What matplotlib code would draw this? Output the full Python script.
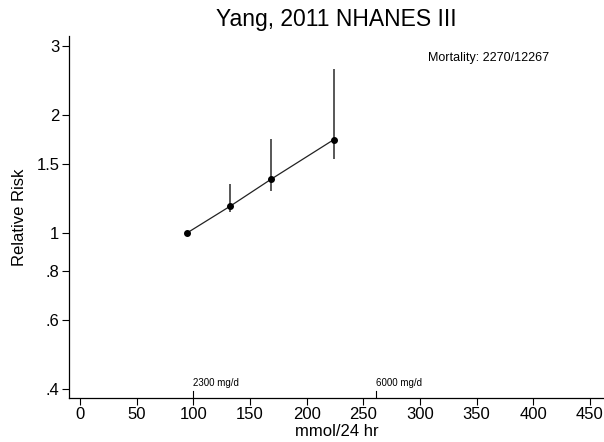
import matplotlib
matplotlib.use("Agg")
import matplotlib.pyplot as plt
from matplotlib.ticker import FixedLocator, FixedFormatter, NullLocator

# sodium excretion (mmol/24 hr) and relative risk with 95% CI
sodium = [94.5, 132.5, 168.5, 224.0]
rr = [1.0, 1.17, 1.37, 1.73]
rr_low = [1.0, 1.13, 1.28, 1.54]
rr_high = [1.0, 1.33, 1.74, 2.62]

y_ticks = [0.4, 0.6, 0.8, 1, 1.5, 2, 3]
y_labels = [".4", ".6", ".8", "1", "1.5", "2", "3"]
x_ticks = [0, 50, 100, 150, 200, 250, 300, 350, 400, 450]

ref_x = [100, 261]
ref_labels = ["2300 mg/d", "6000 mg/d"]

plt.rcParams["font.family"] = ["Liberation Sans", "DejaVu Sans"]

fig = plt.figure(figsize=(6.04, 4.42), dpi=100)
ax = fig.add_axes([0.1142, 0.1002, 0.8858, 0.8184])

ax.set_yscale("log")
ax.set_xlim(-9.7, 462.5)
ax.set_ylim(0.380, 3.18)

# error bars
for x, lo, hi in zip(sodium, rr_low, rr_high):
    if hi > lo:
        ax.plot([x, x], [lo, hi], color="#2a2a2a", lw=1.1, solid_capstyle="butt")

ax.plot(sodium, rr, color="#222222", lw=0.9, marker="o", markersize=4.0,
        markerfacecolor="black", markeredgecolor="black")

# reference intake marks
for x, lab in zip(ref_x, ref_labels):
    ax.axvline(x, ymin=0, ymax=0.018, color="black", lw=0.8)
    ax.text(x, 0.402, lab, fontsize=7, ha="left", va="bottom")

ax.text(0.671, 0.939, "Mortality: 2270/12267", transform=ax.transAxes,
        fontsize=9, ha="left", va="center")

ax.yaxis.set_major_locator(FixedLocator(y_ticks))
ax.yaxis.set_major_formatter(FixedFormatter(y_labels))
ax.yaxis.set_minor_locator(NullLocator())
ax.set_xticks(x_ticks)

ax.tick_params(axis="both", labelsize=12, length=5, width=0.8, pad=2)
for s in ["top", "right"]:
    ax.spines[s].set_visible(False)
for s in ["left", "bottom"]:
    ax.spines[s].set_linewidth(0.9)

ax.set_xlabel("mmol/24 hr", fontsize=12, labelpad=1)
ax.set_ylabel("Relative Risk", fontsize=12, labelpad=7)
ax.set_title("Yang, 2011 NHANES III", fontsize=16.5, pad=7)

fig.savefig("out.png", dpi=100)
